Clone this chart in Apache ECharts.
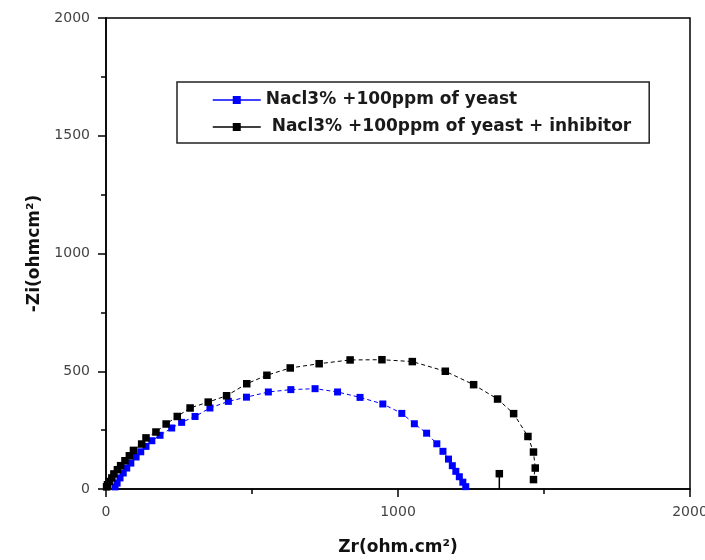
<!DOCTYPE html>
<html>
<head>
<meta charset="utf-8">
<script src="https://cdn.jsdelivr.net/npm/echarts@6/dist/echarts.min.js"></script>
<style>
  html, body { margin: 0; padding: 0; background: #fff; }
  #chart { width: 705px; height: 560px; }
</style>
</head>
<body>
<div id="chart"></div>
<script>
// Nyquist plot: Zr (real part) vs -Zi (imaginary part), ohm.cm²
const seriesNames = ['Nacl3% +100ppm of yeast', 'Nacl3% +100ppm of yeast + inhibitor'];

const yeastZr = [31, 38, 48, 59, 71, 85, 103, 119, 137, 157, 185, 225, 259, 305, 356, 419,
  481, 556, 633, 716, 793, 870, 948, 1013, 1056, 1098, 1133, 1154, 1173, 1186, 1198, 1210, 1222, 1232];
const yeastZi = [9, 25, 47, 68, 89, 110, 136, 158, 181, 205, 228, 259, 283, 308, 344, 372,
  390, 412, 422, 426, 412, 389, 361, 321, 277, 237, 192, 160, 127, 99, 75, 52, 29, 10];

const inhibZr = [2, 5, 11, 20, 27, 39, 50, 65, 80, 94, 122, 137, 171, 206, 244, 288, 350, 413,
  482, 551, 631, 730, 836, 945, 1049, 1162, 1259, 1341, 1396, 1445, 1464, 1470, 1464];
const inhibZi = [9, 18, 32, 47, 64, 82, 99, 120, 141, 164, 191, 217, 242, 276, 308, 344, 369, 396,
  447, 483, 514, 532, 548, 549, 541, 500, 443, 382, 320, 223, 157, 89, 40];

// stray low-frequency point with its drop line to the axis
const strayZr = [1347, 1347];
const strayZi = [65, 0];

const xTicks = { min: 0, max: 2000, interval: 1000 };
const yTicks = { min: 0, max: 2000, interval: 500 };

const zip = (xs, ys) => xs.map((x, i) => [x, ys[i]]);

const chart = echarts.init(document.getElementById('chart'), null, { renderer: 'canvas' });

const tickFont = { fontFamily: 'DejaVu Sans', fontSize: 14, color: '#444' };
const titleFont = { fontFamily: 'DejaVu Sans', fontWeight: 'bold', fontSize: 17, color: '#111' };

const axisCommon = {
  type: 'value',
  axisLine: { show: true, onZero: false, lineStyle: { color: '#000', width: 1.5 } },
  axisTick: { show: true, inside: false, length: 8, lineStyle: { color: '#000', width: 1.5 } },
  minorTick: { show: true, splitNumber: 2, length: 5, lineStyle: { color: '#000', width: 1.5 } },
  splitLine: { show: false },
  axisLabel: Object.assign({ margin: 16, formatter: v => String(v) }, tickFont),
  nameLocation: 'middle',
  nameTextStyle: titleFont
};

const option = {
  animation: false,
  backgroundColor: '#fff',
  grid: {
    left: 106, right: 15, top: 18, bottom: 71,
    outerBoundsMode: 'none',
    containLabel: false,
    show: true, borderColor: '#000', borderWidth: 1.5, backgroundColor: 'transparent'
  },
  legend: {
    data: seriesNames,
    orient: 'vertical',
    left: 177,
    top: 82,
    padding: [9, 18, 7, 35],
    itemGap: 9,
    itemWidth: 48,
    itemHeight: 10,
    borderColor: '#222',
    borderWidth: 1.5,
    backgroundColor: '#fff',
    lineStyle: { type: 'solid', width: 1.5 },
    textStyle: {
      fontFamily: 'DejaVu Sans', fontWeight: 'bold', fontSize: 17, color: '#1a1a1a', lineHeight: 18
    },
    formatter: name => (name === seriesNames[1] ? ' ' + name : name)
  },
  xAxis: Object.assign({}, axisCommon, xTicks, {
    name: 'Zr(ohm.cm²)',
    nameGap: 50
  }),
  yAxis: Object.assign({}, axisCommon, yTicks, {
    name: '-Zi(ohmcm²)',
    nameGap: 63,
    nameRotate: 90
  }),
  series: [
    {
      name: seriesNames[0],
      type: 'line',
      data: zip(yeastZr, yeastZi),
      symbol: 'rect',
      symbolSize: 7,
      showAllSymbol: true,
      itemStyle: { color: '#0000ff' },
      lineStyle: { color: '#0000ff', width: 1, type: [4, 3] },
      z: 2
    },
    {
      name: seriesNames[1],
      type: 'line',
      data: zip(inhibZr, inhibZi),
      symbol: 'rect',
      symbolSize: 7.5,
      showAllSymbol: true,
      itemStyle: { color: '#000' },
      lineStyle: { color: '#000', width: 1, type: [4, 3] },
      z: 3
    },
    {
      name: seriesNames[1],
      type: 'line',
      data: zip(strayZr, strayZi).map((p, i) => (i === 0 ? p : { value: p, symbol: 'none' })),
      symbol: 'rect',
      symbolSize: 7.5,
      itemStyle: { color: '#000' },
      lineStyle: { color: '#000', width: 1.5 },
      z: 3
    }
  ]
};

chart.setOption(option);
</script>
</body>
</html>
